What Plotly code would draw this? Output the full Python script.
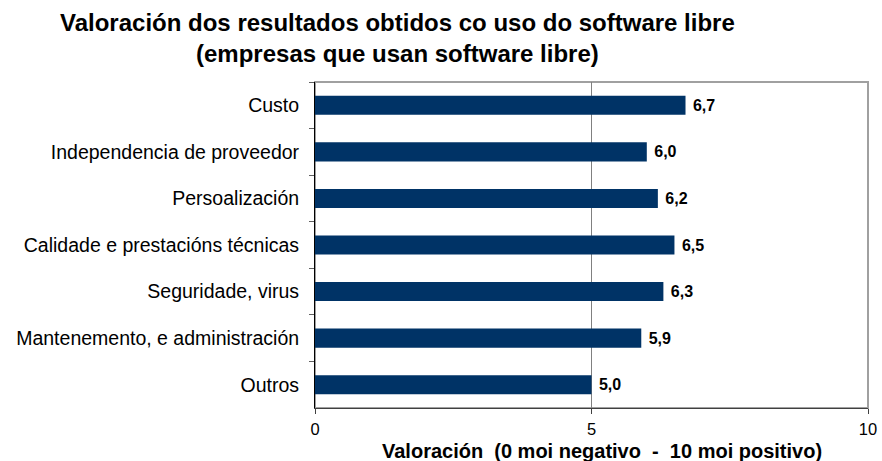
import plotly.graph_objects as go

categories = ["Custo", "Independencia de proveedor", "Persoalización",
              "Calidade e prestacións técnicas", "Seguridade, virus",
              "Mantenemento, e administración", "Outros"]
values = [6.7, 6.0, 6.2, 6.5, 6.3, 5.9, 5.0]
x_ticks = [0, 5, 10]
title_lines = ["Valoración dos resultados obtidos co uso do software libre",
               "(empresas que usan software libre)"]
x_title = "Valoración  (0 moi negativo  -  10 moi positivo)"

FONT = "Liberation Sans, Arial, sans-serif"
L, R, T, B = 315, 14, 82, 53
W, H = 882, 461
pw = W - L - R
ph = H - T - B

fig = go.Figure(go.Bar(
    x=values, y=categories, orientation="h",
    marker=dict(color="#003366", line=dict(width=0)),
    width=0.41,
    texttemplate="\u00a0%{x:.1f}", textposition="outside",
    textfont=dict(family=FONT, size=16, color="black", weight="bold"),
    cliponaxis=False,
))

fig.update_layout(
    width=W, height=H,
    margin=dict(l=L, r=R, t=T, b=B, autoexpand=False),
    paper_bgcolor="white", plot_bgcolor="white",
    separators=",.",
    showlegend=False,
    font=dict(family=FONT, color="black"),
    xaxis=dict(
        range=[0, 10], tickvals=x_ticks, ticktext=[str(v) for v in x_ticks],
        showgrid=True, gridcolor="#808080", gridwidth=1,
        showline=True, linecolor="#404040", linewidth=1,
        ticks="outside", ticklen=5, tickcolor="#404040",
        tickfont=dict(size=16.5), ticklabelstandoff=1,
        zeroline=False, automargin=False,
    ),
    yaxis=dict(
        type="category", autorange="reversed",
        showline=True, linecolor="black", linewidth=1,
        ticks="outside", ticklen=5, tickcolor="#606060",
        tickson="boundaries", tickfont=dict(size=19.5),
        ticklabelstandoff=11, automargin=False,
        showgrid=False,
    ),
    shapes=[dict(type="rect", xref="paper", yref="paper", x0=0, x1=1, y0=0, y1=1,
                 line=dict(color="#a0a0a0", width=2), layer="below")],
    annotations=[
        dict(
            text="<b>" + "<br>".join(title_lines) + "</b>",
            xref="paper", yref="paper",
            x=(397 - L) / pw, y=1 + (T - 38) / ph,
            xanchor="center", yanchor="middle", showarrow=False,
            font=dict(family=FONT, size=24, color="black"),
        ),
        dict(
            text="<b>" + x_title + "</b>",
            xref="paper", yref="paper",
            x=(602 - L) / pw, y=-(450.5 - (H - B)) / ph,
            xanchor="center", yanchor="middle", showarrow=False,
            font=dict(family=FONT, size=20, color="black"),
        ),
    ],
)

fig.write_html("out.html", post_script="document.body.style.margin='0';",
               config={"displayModeBar": False})
